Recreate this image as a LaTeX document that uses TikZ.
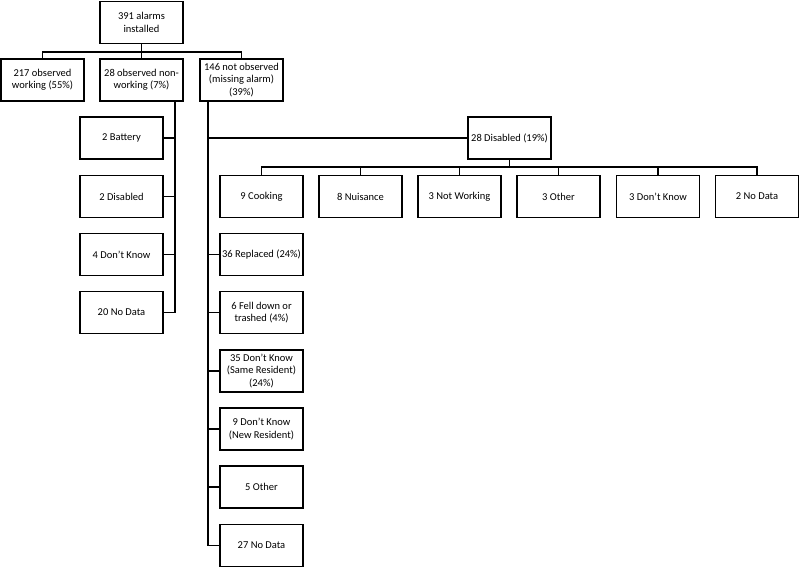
\documentclass[tikz,border=0pt]{standalone}
\usepackage{fontspec}
\setmainfont{Carlito}
\begin{document}
\begin{tikzpicture}[x=1pt,y=-1pt,
  box/.style={draw,line width=1.3pt,minimum width=83pt,minimum height=42pt,inner sep=1pt,align=center,font=\fontsize{10.5}{12.3}\selectfont},
  conn/.style={line width=1.8pt}]
\useasboundingbox (0,0) rectangle (800,568);
% top
\node[box] (top) at (141.5,22.5) {391 alarms\\installed};
\node[box] (b1) at (42.5,80) {217 observed\\working (55\%)};
\node[box] (b2) at (141.5,80) {28 observed non-\\working (7\%)};
\node[box] (b3) at (241.5,80) {146 not observed\\(missing alarm)\\(39\%)};
\coordinate (bus1) at (141.5,52);
\draw[conn] (top.south) -- (bus1);
\draw[conn] (b1.north) |- (bus1) -| (b3.north);
\draw[conn] (bus1) -- (b2.north);
% left column
\node[box] (l1) at (121.5,138) {2 Battery};
\node[box] (l2) at (121.5,196.5) {2 Disabled};
\node[box] (l3) at (121.5,254.5) {4 Don't Know};
\node[box] (l4) at (121.5,312.5) {20 No Data};
\coordinate (v2) at (175,101);
\draw[conn] (v2) |- (l4.east);
\foreach \n in {l1,l2,l3} \draw[conn] (\n.east) -- (\n.east -| v2);
% disabled
\node[box] (dis) at (509.5,138) {28 Disabled (19\%)};
\coordinate (v3) at (208,101);
\node[box] (r1) at (261.5,254.5) {36 Replaced (24\%)};
\node[box] (r2) at (261.5,312.5) {6 Fell down or\\trashed (4\%)};
\node[box] (r3) at (261.5,371) {35 Don't Know\\(Same Resident)\\(24\%)};
\node[box] (r4) at (261.5,429) {9 Don't Know\\(New Resident)};
\node[box] (r5) at (261.5,487) {5 Other};
\node[box] (r6) at (261.5,545.5) {27 No Data};
\draw[conn] (v3) |- (r6.west);
\foreach \n in {dis,r1,r2,r3,r4,r5} \draw[conn] (\n.west) -- (\n.west -| v3);
% disabled reasons
\node[box] (c1) at (261.5,196.5) {9 Cooking};
\node[box] (c2) at (360.5,196.5) {8 Nuisance};
\node[box] (c3) at (459.5,196.5) {3 Not Working};
\node[box] (c4) at (558.5,196.5) {3 Other};
\node[box] (c5) at (658,196.5) {3 Don't Know};
\node[box] (c6) at (757,196.5) {2 No Data};
\coordinate (dbus) at (509.5,167);
\draw[conn] (dis.south) -- (dbus);
\draw[conn] (c1.north) |- (dbus) -| (c6.north);
\foreach \n in {c2,c3,c4,c5} \draw[conn] (\n.north) -- (\n.north |- dbus);
\end{tikzpicture}
\end{document}
